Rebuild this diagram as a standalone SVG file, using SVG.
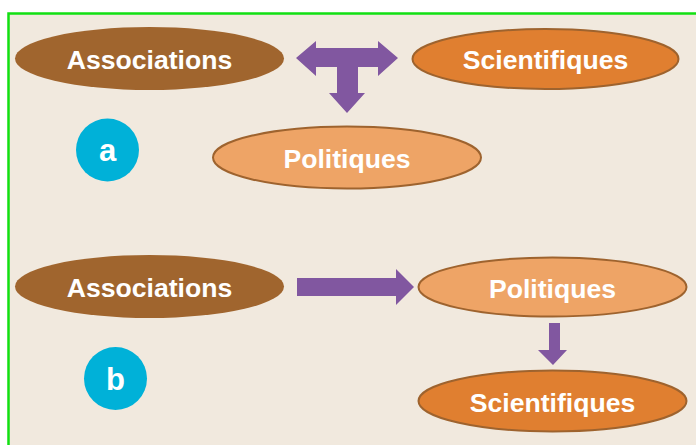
<svg xmlns="http://www.w3.org/2000/svg" width="696" height="445" viewBox="0 0 696 445">
  <style>
    .lbl { font-family: "Liberation Sans", Arial, sans-serif; font-weight: bold; font-size: 26.6px; fill: #ffffff; text-anchor: middle; }
    .tag { font-family: "Liberation Sans", Arial, sans-serif; font-weight: bold; font-size: 31px; fill: #ffffff; text-anchor: middle; }
    .assoc { fill: #A0652E; }
    .sci { fill: #E07F30; stroke: #9E632E; stroke-width: 2; }
    .pol { fill: #EEA466; stroke: #9E632E; stroke-width: 2; }
    .badge { fill: #00B1D8; }
    .arrow { fill: #8157A0; }
  </style>

  <!-- canvas -->
  <rect x="0" y="0" width="696" height="445" fill="#ffffff"/>
  <rect x="9" y="14" width="690" height="435" fill="#F1E9DE"/>
  <path d="M8.5,445 V13.5 H696" fill="none" stroke="#12E012" stroke-width="2.5"/>

  <!-- connectors -->
  <g id="connectors">
    <!-- T-shaped arrow: two-way horizontal, one down -->
    <path class="arrow" d="M296,58 L316,41 L316,48 L378,48 L378,41 L398,58 L378,76 L378,67 L358,67 L358,93 L365,93 L347,113 L329,93 L337,93 L337,67 L316,67 L316,76 Z"/>
    <!-- Associations to Politiques -->
    <path class="arrow" d="M297,278 L396,278 L396,269 L414,287 L396,305 L396,296 L297,296 Z"/>
    <!-- Politiques to Scientifiques -->
    <path class="arrow" d="M549,323 L560,323 L560,350 L567,350 L553,365 L538,350 L549,350 Z"/>
  </g>

  <!-- layout a -->
  <g id="a-associations">
    <ellipse class="assoc" cx="149.5" cy="58.5" rx="134.5" ry="31.5"/>
    <text class="lbl" x="149.5" y="69">Associations</text>
  </g>
  <g id="a-scientifiques">
    <ellipse class="sci" cx="545.5" cy="59" rx="133" ry="30"/>
    <text class="lbl" x="545.5" y="69">Scientifiques</text>
  </g>
  <g id="a-politiques">
    <ellipse class="pol" cx="347" cy="157.5" rx="134" ry="31"/>
    <text class="lbl" x="347" y="168">Politiques</text>
  </g>
  <g id="badge-a">
    <circle class="badge" cx="107.5" cy="150" r="31.5"/>
    <text class="tag" x="107.5" y="161">a</text>
  </g>

  <!-- layout b -->
  <g id="b-associations">
    <ellipse class="assoc" cx="149.5" cy="286.5" rx="134.5" ry="31.5"/>
    <text class="lbl" x="149.5" y="297">Associations</text>
  </g>
  <g id="b-politiques">
    <ellipse class="pol" cx="552.5" cy="287" rx="134" ry="29.5"/>
    <text class="lbl" x="552.5" y="297.5">Politiques</text>
  </g>
  <g id="b-scientifiques">
    <ellipse class="sci" cx="552.5" cy="401" rx="134" ry="30.5"/>
    <text class="lbl" x="552.5" y="411.5">Scientifiques</text>
  </g>
  <g id="badge-b">
    <circle class="badge" cx="115.5" cy="378.5" r="31.5"/>
    <text class="tag" x="115.5" y="390">b</text>
  </g>
</svg>
